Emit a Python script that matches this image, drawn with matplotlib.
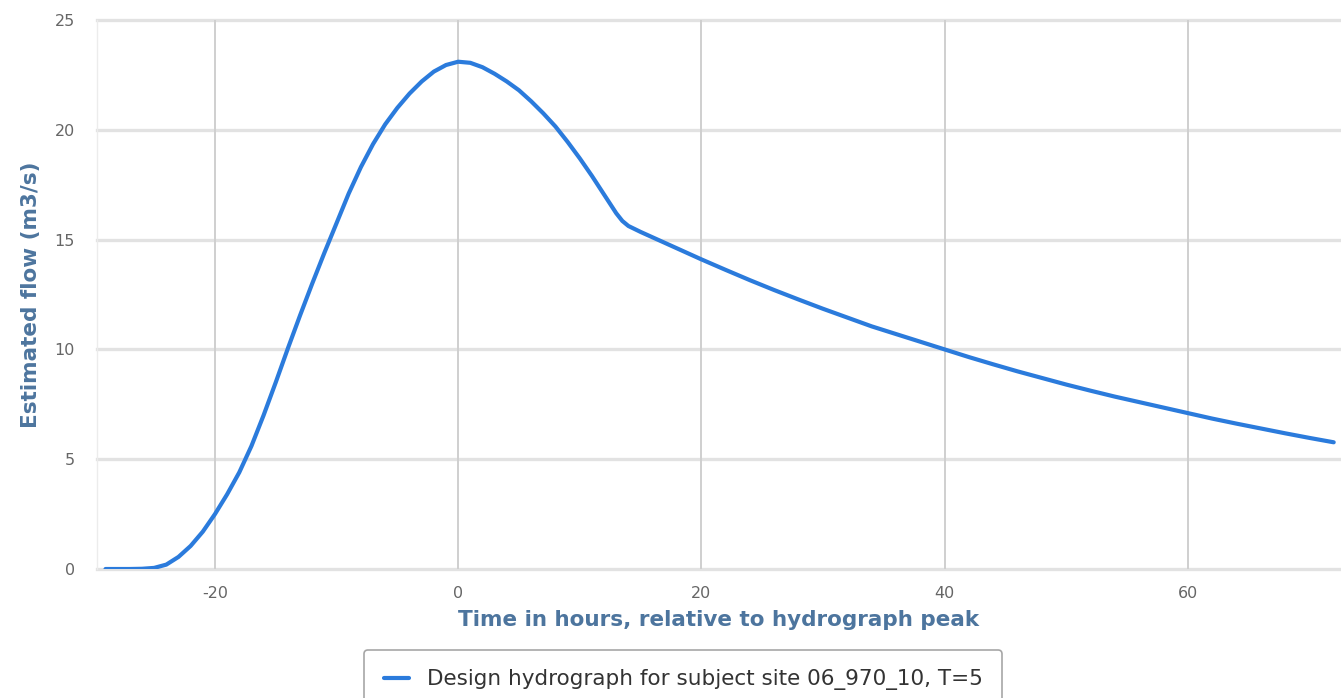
import numpy as np
import matplotlib.pyplot as plt

plt.rcParams['axes.unicode_minus'] = False

# Hydrograph readings (hours relative to peak, flow m3/s)
hours = [-29, -28, -27, -26, -25, -24, -23, -22, -21, -20, -19, -18, -17, -16, -15,
         -14, -13, -12, -11, -10, -9, -8, -7, -6, -5, -4, -3, -2, -1, 0,
         1, 2, 3, 4, 5, 6, 7, 8, 9, 10, 11, 12, 13, 13.5, 14, 15, 16, 18, 20,
         22, 24, 26, 28, 30, 32, 34, 36, 38, 40, 42, 44, 46, 48, 50, 52,
         54, 56, 58, 60, 62, 64, 66, 68, 70, 72]
flow = [0.0, 0.0, 0.0, 0.01, 0.05, 0.2, 0.55, 1.05, 1.7, 2.5, 3.4, 4.4, 5.6, 7.0, 8.5,
        10.05, 11.55, 13.0, 14.4, 15.75, 17.1, 18.3, 19.35, 20.25, 21.0, 21.65, 22.2, 22.65, 22.95, 23.1,
        23.05, 22.85, 22.55, 22.2, 21.8, 21.3, 20.75, 20.15, 19.45, 18.7, 17.9, 17.05, 16.2, 15.85, 15.62, 15.35, 15.1, 14.6, 14.1,
        13.62, 13.15, 12.7, 12.27, 11.85, 11.45, 11.05, 10.7, 10.35, 10.0, 9.65, 9.32, 9.0, 8.7, 8.4, 8.12,
        7.85, 7.6, 7.35, 7.1, 6.85, 6.62, 6.4, 6.18, 5.97, 5.77]

x_ticks = [-20, 0, 20, 40, 60]
y_ticks = [0, 5, 10, 15, 20, 25]

fig = plt.figure(figsize=(13.41, 6.98), dpi=100)
ax = fig.add_axes([97 / 1341, 1 - 569 / 698, 1 - 97 / 1341, 549 / 698])

ax.plot(hours, flow, color='#2b7bdc', linewidth=3.0,
        label='Design hydrograph for subject site 06_970_10, T=5',
        solid_capstyle='round', solid_joinstyle='round', zorder=3)

ax.set_xlim(-29.7, 72.6)
ax.set_ylim(0, 25)
ax.set_xticks(x_ticks)
ax.set_yticks(y_ticks)

# grid: light thick horizontals, thinner darker verticals
for y in y_ticks:
    ax.axhline(y, color='#e2e2e2', linewidth=2.4, zorder=1, clip_on=False)
for x in x_ticks:
    ax.axvline(x, color='#cfcfcf', linewidth=1.4, zorder=1)

for s in ['top', 'right', 'bottom']:
    ax.spines[s].set_visible(False)
ax.spines['left'].set_color('#ececec')
ax.spines['left'].set_linewidth(1.0)

ax.tick_params(axis='both', length=0, labelsize=11.5, colors='#666666')
ax.tick_params(axis='y', pad=16)
ax.tick_params(axis='x', pad=12)

ax.set_xlabel('Time in hours, relative to hydrograph peak', fontsize=15.5,
              fontweight='bold', color='#4d759e', labelpad=7)
ax.set_ylabel('Estimated flow (m3/s)', fontsize=15.5, fontweight='bold',
              color='#4d759e', labelpad=10)

leg = fig.legend(loc='upper center', bbox_to_anchor=(683 / 1341, 1 - 650 / 698),
                 fontsize=15.5, frameon=True, fancybox=True, handlelength=1.2,
                 borderpad=0.9, borderaxespad=0, labelcolor='#333333')
leg.get_frame().set_edgecolor('#909090')
leg.get_frame().set_linewidth(1.2)

fig.savefig('out.png', dpi=100)
